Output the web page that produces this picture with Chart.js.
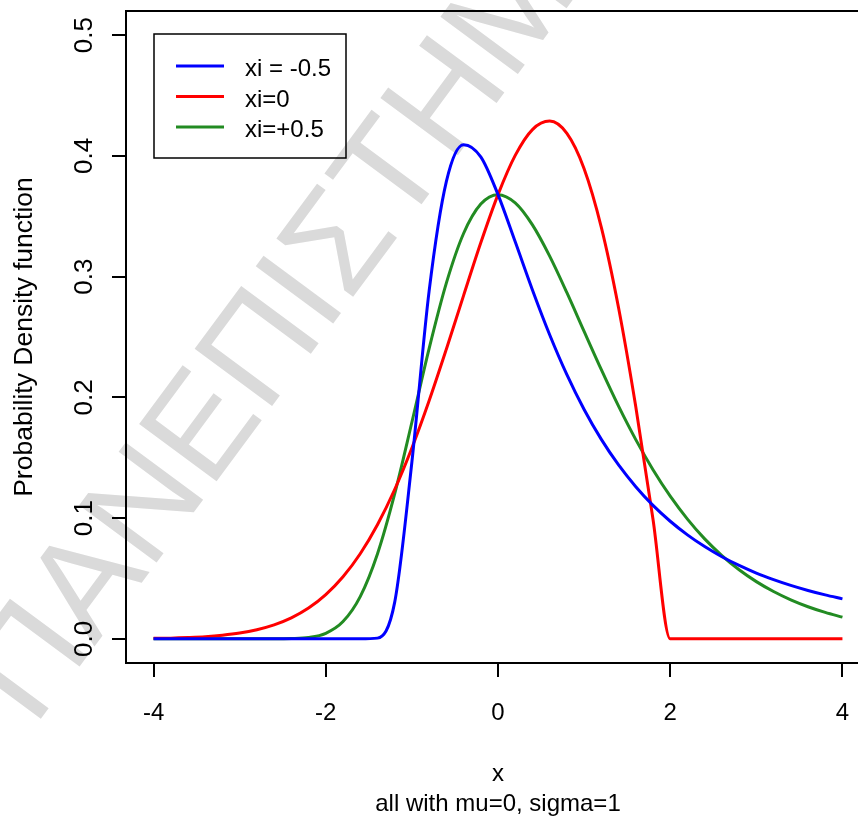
<!DOCTYPE html>
<html>
<head>
<meta charset="utf-8">
<title>GEV densities</title>
<script src="https://cdn.jsdelivr.net/npm/chart.js@4.4.1/dist/chart.umd.min.js"></script>
<style>
    html, body { margin: 0; padding: 0; background: #fff; overflow: hidden; }
    #wrap { width: 858px; height: 817px; overflow: hidden; }
    #wrap canvas { display: block; }
</style>
</head>
<body>
<div id="wrap"><canvas id="pdfChart" width="872" height="817"></canvas></div>
<script>
// x grid of the curves
const xValues = [-4.0, -3.8, -3.6, -3.4, -3.2, -3.0, -2.8, -2.6, -2.4, -2.2, -2.0, -1.8, -1.6, -1.4, -1.2, -1.0, -0.8, -0.6, -0.4, -0.2,
    0.0, 0.2, 0.4, 0.6, 0.8, 1.0, 1.2, 1.4, 1.6, 1.8, 2.0, 2.2, 2.4, 2.6, 2.8, 3.0, 3.2, 3.4, 3.6, 3.8, 4.0];

// blue curve ("xi = -0.5")
const xiMinus = [0, 0, 0, 0, 0, 0, 0, 0, 0, 0, 0, 0, 0, 0.0006, 0.0302, 0.1465, 0.2880, 0.3787, 0.4093, 0.3992,
    0.3679, 0.3288, 0.2890, 0.2519, 0.2188, 0.1900, 0.1652, 0.1440, 0.1260, 0.1105, 0.0974, 0.0861, 0.0764, 0.0680, 0.0608,
    0.0545, 0.0491, 0.0443, 0.0401, 0.0364, 0.0331];

// red curve ("xi=0")
const xiZero = [0.0004, 0.0006, 0.0011, 0.0018, 0.0030, 0.0048, 0.0076, 0.0116, 0.0174, 0.0255, 0.0366, 0.0514, 0.0705, 0.0945,
    0.1237, 0.1581, 0.1972, 0.2399, 0.2843, 0.3280, 0.3679, 0.4004, 0.4218, 0.4288, 0.4186, 0.3894, 0.3408, 0.2742, 0.1922,
    0.0990, 0, 0, 0, 0, 0, 0, 0, 0, 0, 0, 0];

// green curve ("xi=+0.5")
const xiPlus = [0, 0, 0, 0, 0, 0, 0, 0, 0.0002, 0.0011, 0.0046, 0.0143, 0.0350, 0.0703, 0.1200, 0.1794, 0.2404, 0.2946, 0.3357,
    0.3601, 0.3679, 0.3611, 0.3429, 0.3170, 0.2867, 0.2546, 0.2229, 0.1927, 0.1650, 0.1401, 0.1182, 0.0992, 0.0828, 0.0690,
    0.0572, 0.0474, 0.0392, 0.0323, 0.0266, 0.0219, 0.0180];

const seriesLabels = ["xi = -0.5", "xi=0", "xi=+0.5"];
const xTicks = [-4, -2, 0, 2, 4];
const yTicks = [0.0, 0.1, 0.2, 0.3, 0.4, 0.5];
const xTitle = "x";
const subTitle = "all with mu=0, sigma=1";
const yTitle = "Probability Density function";
const watermark = "ΠΑΝΕΠΙΣΤΗΜΙΟ";

const FONT = "'Liberation Sans', Arial, Helvetica, sans-serif";

function hText(ctx, text, x, y, align) {
    ctx.textAlign = align;
    ctx.textBaseline = "alphabetic";
    ctx.fillText(text, x, y);
}

function vText(ctx, text, x, y) {
    ctx.save();
    ctx.translate(x, y);
    ctx.rotate(-Math.PI / 2);
    ctx.textAlign = "center";
    ctx.textBaseline = "alphabetic";
    ctx.fillText(text, 0, 0);
    ctx.restore();
}

const rStyle = {
    id: "rStyle",
    beforeDraw(chart) {
        const ctx = chart.ctx;
        ctx.save();
        ctx.fillStyle = "#fff";
        ctx.fillRect(0, 0, chart.width, chart.height);
        // watermark
        ctx.translate(34, 728);
        ctx.rotate(-53.5 * Math.PI / 180);
        ctx.font = "140px " + FONT;
        ctx.fillStyle = "rgb(218,218,218)";
        ctx.textAlign = "left";
        ctx.textBaseline = "alphabetic";
        ctx.fillText(watermark, 0, 0);
        ctx.restore();
    },
    afterDraw(chart) {
        const ctx = chart.ctx;
        const a = chart.chartArea;
        const xs = chart.scales.x;
        const ys = chart.scales.y;
        ctx.save();
        ctx.strokeStyle = "#000";
        ctx.fillStyle = "#000";

        // box
        ctx.lineWidth = 2;
        ctx.strokeRect(a.left, a.top, a.right - a.left, a.bottom - a.top);

        // x tick labels
        ctx.font = "24px " + FONT;
        xs.ticks.forEach(t => hText(ctx, String(t.value), xs.getPixelForValue(t.value), 720, "center"));

        // y tick labels, rotated
        ctx.font = "26px " + FONT;
        ys.ticks.forEach(t => vText(ctx, t.value.toFixed(1), 92, ys.getPixelForValue(t.value)));

        // titles
        ctx.font = "26.5px " + FONT;
        vText(ctx, yTitle, 32, (a.top + a.bottom) / 2);
        ctx.font = "24px " + FONT;
        const cx = (a.left + a.right) / 2;
        hText(ctx, xTitle, cx, 781, "center");
        hText(ctx, subTitle, cx, 811, "center");

        // legend
        ctx.lineWidth = 1.5;
        ctx.strokeRect(154, 34, 192, 124);
        chart.data.datasets.forEach((ds, i) => {
            const rowY = 66 + i * 30.5;
            ctx.strokeStyle = ds.borderColor;
            ctx.lineWidth = 3;
            ctx.beginPath();
            ctx.moveTo(176, rowY);
            ctx.lineTo(224, rowY);
            ctx.stroke();
            hText(ctx, ds.label, 245, rowY + 10, "left");
        });
        ctx.restore();
    }
};

function makeSeries(values) {
    return xValues.map((x, i) => ({ x: x, y: values[i] }));
}

const axisGrid = {
    display: true,
    drawOnChartArea: false,
    drawTicks: true,
    tickLength: 14,
    color: "#000",
    lineWidth: 2
};

const chart = new Chart(document.getElementById("pdfChart").getContext("2d"), {
    type: "line",
    data: {
        datasets: [
            { label: seriesLabels[0], data: makeSeries(xiMinus), borderColor: "#0000ff" },
            { label: seriesLabels[1], data: makeSeries(xiZero), borderColor: "#ff0000" },
            { label: seriesLabels[2], data: makeSeries(xiPlus), borderColor: "#228b22" }
        ].map(ds => Object.assign(ds, {
            borderWidth: 3,
            pointRadius: 0,
            fill: false,
            cubicInterpolationMode: "monotone"
        }))
    },
    options: {
        responsive: false,
        animation: false,
        events: [],
        layout: { padding: { top: 11, right: 2, left: 0, bottom: 0 } },
        plugins: {
            legend: { display: false },
            tooltip: { enabled: false }
        },
        scales: {
            x: {
                type: "linear",
                min: -4.32,
                max: 4.32,
                afterBuildTicks: s => { s.ticks = xTicks.map(v => ({ value: v })); },
                afterFit: s => { s.height = 154; },
                ticks: { display: false },
                grid: axisGrid,
                border: { display: false }
            },
            y: {
                type: "linear",
                min: -0.02,
                max: 0.52,
                afterBuildTicks: s => { s.ticks = yTicks.map(v => ({ value: v })); },
                afterFit: s => { s.width = 126; },
                ticks: { display: false },
                grid: axisGrid,
                border: { display: false }
            }
        }
    },
    plugins: [rStyle]
});
</script>
</body>
</html>
